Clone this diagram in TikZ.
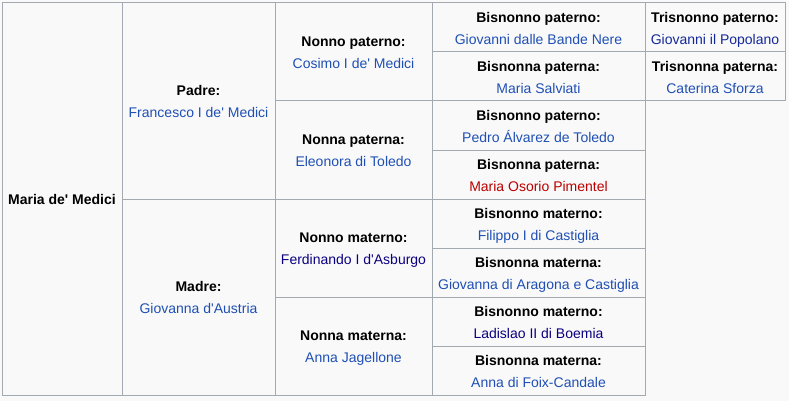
\documentclass[tikz,border=0pt]{standalone}
\usepackage{fontspec}
\setmainfont{Liberation Sans}[Ligatures=TeXOff]

\definecolor{cellbg}{HTML}{F9F9F9}
\definecolor{cellline}{HTML}{A2A9B1}
\definecolor{link}{HTML}{1F4FB4}
\definecolor{visited}{HTML}{0B0080}
\definecolor{redlink}{HTML}{BA0000}

\begin{document}
\begin{tikzpicture}[
        x=1pt, y=-1pt,
        cell/.style={rectangle, draw=cellline, fill=cellbg, line width=1pt, inner sep=0pt, outer sep=0pt, align=center, text height=36.6pt, text depth=3pt, font=\fontsize{14}{22}\selectfont},
        gen1/.style={cell, minimum width=120pt, minimum height=392pt, text height=13pt},
        gen2/.style={cell, minimum width=153pt, minimum height=196pt},
        gen3/.style={cell, minimum width=157pt, minimum height=98pt},
        gen4/.style={cell, minimum width=213pt, minimum height=49pt},
        gen5/.style={cell, minimum width=140pt, minimum height=49pt}
    ]

        \useasboundingbox (0,0) rectangle (789,401);
        \fill[cellbg] (0,0) rectangle (789,401);

        % Maria
        \node[gen1] (maria) at (62,199) {\textbf{Maria de' Medici}};

        % Genitori
        \node[gen2] (padre) at (198.5,101) {\textbf{Padre:}\\\textcolor{link}{Francesco I de' Medici}};
        \node[gen2] (madre) at (198.5,297) {\textbf{Madre:}\\\textcolor{link}{Giovanna d'Austria}};

        % Nonni
        \node[gen3] (nonno_pat) at (353.5,52) {\textbf{Nonno paterno:}\\\textcolor{link}{Cosimo I de' Medici}};
        \node[gen3] (nonna_pat) at (353.5,150) {\textbf{Nonna paterna:}\\\textcolor{link}{Eleonora di Toledo}};
        \node[gen3] (nonno_mat) at (353.5,248) {\textbf{Nonno materno:}\\\textcolor{visited}{Ferdinando I d'Asburgo}};
        \node[gen3] (nonna_mat) at (353.5,346) {\textbf{Nonna materna:}\\\textcolor{link}{Anna Jagellone}};

        % Bisnonni
        \node[gen4] (bisnonno_pat1) at (538.5,27.5) {\textbf{Bisnonno paterno:}\\\textcolor{link}{Giovanni dalle Bande Nere}};
        \node[gen4] (bisnonna_pat1) at (538.5,76.5) {\textbf{Bisnonna paterna:}\\\textcolor{link}{Maria Salviati}};
        \node[gen4] (bisnonno_pat2) at (538.5,125.5) {\textbf{Bisnonno paterno:}\\\textcolor{link}{Pedro Álvarez de Toledo}};
        \node[gen4] (bisnonna_pat2) at (538.5,174.5) {\textbf{Bisnonna paterna:}\\\textcolor{redlink}{Maria Osorio Pimentel}};
        \node[gen4] (bisnonno_mat1) at (538.5,223.5) {\textbf{Bisnonno materno:}\\\textcolor{link}{Filippo I di Castiglia}};
        \node[gen4] (bisnonna_mat1) at (538.5,272.5) {\textbf{Bisnonna materna:}\\\textcolor{link}{Giovanna di Aragona e Castiglia}};
        \node[gen4] (bisnonno_mat2) at (538.5,321.5) {\textbf{Bisnonno materno:}\\\textcolor{visited}{Ladislao II di Boemia}};
        \node[gen4] (bisnonna_mat2) at (538.5,370.5) {\textbf{Bisnonna materna:}\\\textcolor{link}{Anna di Foix-Candale}};

        % Trisnonni
        \node[gen5] (trisnonno_pat) at (715,27.5) {\textbf{Trisnonno paterno:}\\\textcolor{visited!50!link}{Giovanni il Popolano}};
        \node[gen5] (trisnonna_pat) at (715,76.5) {\textbf{Trisnonna paterna:}\\\textcolor{link}{Caterina Sforza}};

    \end{tikzpicture}
\end{document}
